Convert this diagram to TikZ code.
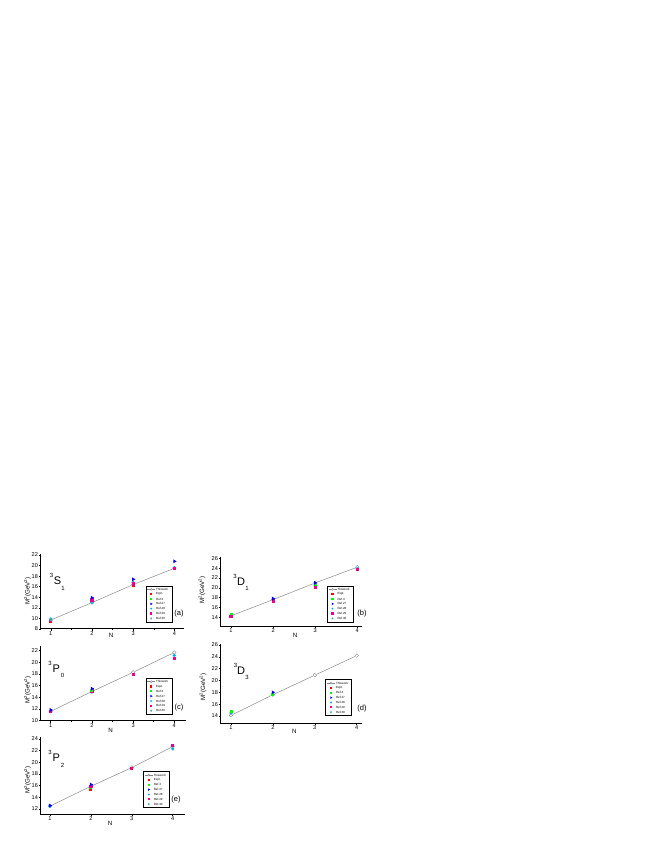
\documentclass[tikz,border=0pt]{standalone}
\usepackage{fontspec}
\setmainfont{Liberation Sans}
\usetikzlibrary{shapes.geometric}
\definecolor{tealc}{RGB}{60,170,170}
\definecolor{grayl}{RGB}{130,130,130}
\newcommand{\setp}[9]{\def\Pxo{#1}\def\Pdx{#2}\def\Pyo{#3}\def\Pvo{#4}\def\Psy{#5}\def\Pax{#6}\def\Pab{#7}\def\Ptop{#8}\def\Pright{#9}}
\newcommand{\pc}[2]{({\Pxo+(#1-1)*\Pdx},{\Pyo-(#2-\Pvo)*\Psy})}
\newcommand{\axes}[3]{%
 \draw[axis] (\Pax,\Ptop) -- (\Pax,\Pab) -- (\Pright,\Pab);
 \foreach \nn in {1,2,3,4} {\draw[axis] ({\Pxo+(\nn-1)*\Pdx},\Pab) -- ++(0,2) node[below, ticklab] (#1x\nn) {\nn};}
 \foreach \nn in {1.5,2.5,3.5} {\draw[axis] ({\Pxo+(\nn-1)*\Pdx},\Pab) -- ++(0,1.2);}
 \foreach \yv in {#2} {\draw[axis] (\Pax,{\Pyo-(\yv-\Pvo)*\Psy}) -- ++(-2,0) node[left, ticklab] (#1y\yv) {\yv};}
 \foreach \yv in {#3} {\draw[axis] (\Pax,{\Pyo-(\yv-\Pvo)*\Psy}) -- ++(-1.2,0);}
}
\newcommand{\tw}[5]{%
 \node[twpt] (#1t1) at \pc{1}{#2} {};
 \node[twpt] (#1t2) at \pc{2}{#3} {};
 \node[twpt] (#1t3) at \pc{3}{#4} {};
 \node[twpt] (#1t4) at \pc{4}{#5} {};
 \draw[twline] (#1t1) -- (#1t2) -- (#1t3) -- (#1t4);
}
\newcommand{\mk}[4]{\node[#1] (#2) at \pc{#3}{#4} {};}
\newcommand{\leg}[3]{%
 \draw[legbox] (#2,#3) rectangle ++(26,36);
 \draw[twline] ({#2+1.5},{#3+3.6}) -- ++(8,0);
 \node[twpt, minimum size=2pt] (#1L0) at ({#2+5.5},{#3+3.6}) {};
 \node[mexp, lm] (#1L1) at ({#2+5.5},{#3+8.45}) {};
 \node[mrt, lm] (#1L2) at ({#2+5.5},{#3+13.3}) {};
 \node[mrs, lm] (#1L3) at ({#2+5.5},{#3+18.15}) {};
 \node[mre, lm] (#1L4) at ({#2+5.5},{#3+23}) {};
 \node[mrn, lm] (#1L5) at ({#2+5.5},{#3+27.85}) {};
 \node[mrz, lm] (#1L6) at ({#2+5.5},{#3+32.7}) {};
 \node[legtxt] (#1T0) at ({#2+10},{#3+3.6}) {Thiswork};
 \node[legtxt] (#1T1) at ({#2+10},{#3+8.45}) {Expt.};
 \node[legtxt] (#1T2) at ({#2+10},{#3+13.3}) {Ref.3};
 \node[legtxt] (#1T3) at ({#2+10},{#3+18.15}) {Ref.27};
 \node[legtxt] (#1T4) at ({#2+10},{#3+23}) {Ref.28};
 \node[legtxt] (#1T5) at ({#2+10},{#3+27.85}) {Ref.29};
 \node[legtxt] (#1T6) at ({#2+10},{#3+32.7}) {Ref.30};
}
\newcommand{\ttl}[8]{%
 \node[supf] (#1s) at (#2,#3) {3};
 \node[bigf] (#1l) at (#4,#5) {#6};
 \node[supf] (#1b) at (#7,#8) {\ttlsub};
}
\begin{document}
\begin{tikzpicture}[x=1pt,y=-1pt,
 axis/.style={line width=0.45pt, black},
 ticklab/.style={font=\fontsize{5.6}{5.6}\selectfont, inner sep=0.5pt},
 twline/.style={grayl, line width=0.45pt},
 twpt/.style={circle, draw=grayl, fill=white, line width=0.35pt, inner sep=0pt, minimum size=3.6pt},
 mexp/.style={rectangle, fill=red, inner sep=0pt, minimum size=3pt},
 mrt/.style={rectangle, fill=green, inner sep=0pt, minimum size=3pt},
 mrs/.style={isosceles triangle, isosceles triangle apex angle=60, fill=blue, inner sep=0pt, minimum height=3.4pt, minimum width=3.4pt},
 mre/.style={diamond, fill=cyan, inner sep=0pt, minimum size=3.6pt},
 mrn/.style={rectangle, fill=magenta, inner sep=0pt, minimum size=3.2pt},
 mrz/.style={star, star points=5, fill=tealc, inner sep=0pt, minimum size=3.6pt},
 lm/.style={minimum size=2pt, minimum height=2.2pt, minimum width=2.2pt},
 legbox/.style={draw=black, line width=0.35pt, fill=white},
 legtxt/.style={anchor=west, font=\fontsize{3}{3}\selectfont, inner sep=0.3pt},
 ylab/.style={rotate=90, font=\fontsize{6.2}{6.2}\selectfont, inner sep=0pt},
 nlab/.style={font=\fontsize{6.2}{6.2}\selectfont, inner sep=0pt},
 plet/.style={font=\fontsize{7.5}{7.5}\selectfont, inner sep=0pt},
 supf/.style={font=\fontsize{6}{6}\selectfont, inner sep=0pt},
 bigf/.style={font=\fontsize{11}{11}\selectfont, inner sep=0pt}
]
\useasboundingbox (0,0) rectangle (654,846);
\fill[white] (0,0) rectangle (654,846);

% ---------------- panel (a) 3S1
\setp{50.8}{41.2}{629}{8}{5.286}{40.7}{628.5}{554}{184}
\axes{a}{8,10,12,14,16,18,20,22}{9,11,13,15,17,19,21}
\tw{a}{9.7}{13.0}{16.4}{19.5}
\mk{mexp}{a11}{1}{9.5}
\mk{mrt}{a12}{1}{9.6}
\mk{mre}{a13}{1}{9.9}
\mk{mrn}{a14}{1}{9.55}
\mk{mrz}{a15}{1}{9.8}
\mk{mre}{a21}{2}{13.0}
\mk{mrz}{a22}{2}{13.2}
\mk{mexp}{a23}{2}{13.4}
\mk{mrn}{a24}{2}{13.5}
\mk{mrs}{a25}{2}{13.9}
\mk{mexp}{a31}{3}{16.3}
\mk{mrt}{a32}{3}{16.6}
\mk{mre}{a33}{3}{16.8}
\mk{mrn}{a34}{3}{16.5}
\mk{mrs}{a35}{3}{17.4}
\mk{mre}{a41}{4}{19.6}
\mk{mexp}{a42}{4}{19.5}
\mk{mrn}{a43}{4}{19.5}
\mk{mrs}{a44}{4}{20.8}
\leg{a}{145.7}{585.7}
\node[plet] (alet) at (179,614) {(a)};
\node[ylab] (aylab) at (27.5,591) {M\textsuperscript{2}(GeV\textsuperscript{2})};
\node[nlab] (anl) at (111,635.5) {N};
\def\ttlsub{1}
\ttl{a}{51.5}{575}{57.5}{580.5}{S}{63}{588}

% ---------------- panel (b) 3D1
\setp{231}{42.1}{617.3}{14}{4.917}{220.7}{626}{557}{362}
\axes{b}{14,16,18,20,22,24,26}{13,15,17,19,21,23,25}
\tw{b}{14.3}{17.6}{21.0}{24.2}
\mk{mre}{b11}{1}{14.4}
\mk{mrt}{b12}{1}{14.6}
\mk{mrn}{b13}{1}{14.2}
\mk{mexp}{b21}{2}{17.5}
\mk{mrn}{b22}{2}{17.2}
\mk{mrs}{b23}{2}{17.8}
\mk{mre}{b31}{3}{20.7}
\mk{mrt}{b32}{3}{20.5}
\mk{mrn}{b33}{3}{20.1}
\mk{mrs}{b34}{3}{21.0}
\mk{mre}{b41}{4}{23.9}
\mk{mrn}{b42}{4}{23.8}
\leg{b}{327}{585.7}
\node[plet] (blet) at (362,614) {(b)};
\node[ylab] (bylab) at (202,590) {M\textsuperscript{2}(GeV\textsuperscript{2})};
\node[nlab] (bnl) at (295,635.5) {N};
\def\ttlsub{1}
\ttl{b}{235}{576}{241}{581.5}{D}{247}{588.5}

% ---------------- panel (c) 3P0
\setp{50.7}{41.2}{720.7}{10}{5.833}{40.7}{720.7}{646}{185.7}
\axes{c}{10,12,14,16,18,20,22}{11,13,15,17,19,21}
\tw{c}{11.6}{15.0}{18.3}{21.7}
\mk{mre}{c11}{1}{11.7}
\mk{mrn}{c12}{1}{11.6}
\mk{mrs}{c13}{1}{11.85}
\mk{mre}{c21}{2}{14.9}
\mk{mrn}{c22}{2}{15.1}
\mk{mrt}{c23}{2}{15.2}
\mk{mrs}{c24}{2}{15.5}
\mk{mexp}{c31}{3}{18.0}
\mk{mrn}{c32}{3}{17.9}
\mk{mre}{c41}{4}{21.2}
\mk{mrn}{c42}{4}{20.6}
\leg{c}{145.7}{678}
\node[plet] (clet) at (179,708) {(c)};
\node[ylab] (cylab) at (27.5,690) {M\textsuperscript{2}(GeV\textsuperscript{2})};
\node[nlab] (cnl) at (110.7,730.5) {N};
\def\ttlsub{0}
\ttl{c}{50}{663}{56.2}{668.5}{P}{62.5}{675.5}

% ---------------- panel (d) 3D3
\setp{231}{41.9}{716}{14}{5.917}{220.7}{723}{644}{362}
\axes{d}{14,16,18,20,22,24,26}{13,15,17,19,21,23,25}
\tw{d}{14.1}{17.6}{20.9}{24.2}
\mk{mre}{d11}{1}{14.5}
\mk{mrz}{d12}{1}{14.6}
\mk{mrt}{d13}{1}{14.8}
\mk{mrt}{d21}{2}{17.7}
\mk{mrs}{d22}{2}{18.0}
\leg{d}{325.5}{679.5}
\node[plet] (dlet) at (362,709) {(d)};
\node[ylab] (dylab) at (203,687) {M\textsuperscript{2}(GeV\textsuperscript{2})};
\node[nlab] (dnl) at (294.3,731) {N};
\def\ttlsub{3}
\ttl{d}{235.5}{665}{241}{670.5}{D}{247}{677.5}

% ---------------- panel (e) 3P2
\setp{50}{40.9}{809}{12}{5.833}{40.7}{814}{737}{185}
\axes{e}{12,14,16,18,20,22,24}{13,15,17,19,21,23}
\tw{e}{12.5}{15.9}{19.1}{22.7}
\mk{mre}{e11}{1}{12.5}
\mk{mrs}{e12}{1}{12.6}
\mk{mexp}{e21}{2}{15.4}
\mk{mrt}{e22}{2}{15.7}
\mk{mrn}{e23}{2}{15.9}
\mk{mrs}{e24}{2}{16.2}
\mk{mrn}{e31}{3}{18.9}
\mk{mre}{e41}{4}{22.3}
\mk{mrn}{e42}{4}{22.9}
\leg{e}{143.3}{771.5}
\node[plet] (elet) at (176,800) {(e)};
\node[ylab] (eylab) at (27.5,780) {M\textsuperscript{2}(GeV\textsuperscript{2})};
\node[nlab] (enl) at (110,823) {N};
\def\ttlsub{2}
\ttl{e}{50}{752.5}{56.2}{758}{P}{62.5}{765}
\end{tikzpicture}
\end{document}
